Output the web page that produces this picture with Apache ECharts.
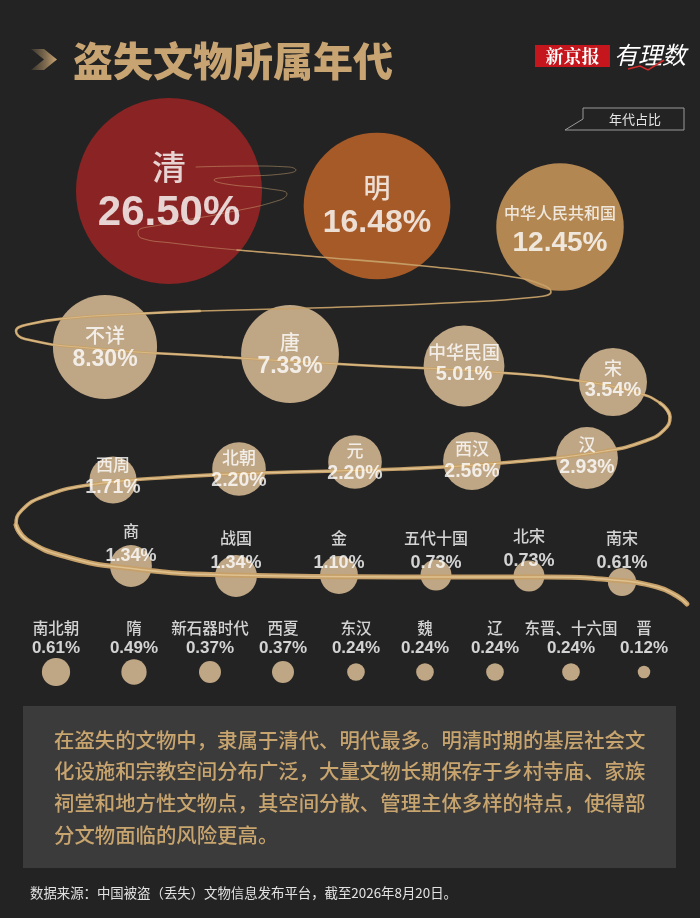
<!DOCTYPE html>
<html><head><meta charset="utf-8">
<script src="https://cdn.jsdelivr.net/npm/echarts@6/dist/echarts.min.js"></script>
<style>html,body{margin:0;padding:0;background:#232323;} #c{width:700px;height:918px;}</style>
</head><body><div id="c"></div>
<script>
// ---- data ----
const eras = ['清','明','中华人民共和国','不详','唐','中华民国','宋','西周','北朝','元','西汉','汉','商','战国','金','五代十国','北宋','南宋','南北朝','隋','新石器时代','西夏','东汉','魏','辽','东晋、十六国','晋'];
const shares = [26.50,16.48,12.45,8.30,7.33,5.01,3.54,1.71,2.20,2.20,2.56,2.93,1.34,1.34,1.10,0.73,0.73,0.61,0.61,0.49,0.37,0.37,0.24,0.24,0.24,0.24,0.12];

// ---- layout (axis units) ----
const bubbleX = [169,377,560,105,290,464,613,113,239,355,472,587,131,236,339,436,529,622,56,134,210,283,356,425,495,571,644];
const bubbleY = [191,206,227,347,354,366,382,480,469,462,461,458,566,576,575,575,576,582,672,672,672,672,672,672,672,672,672];
const labelY  = [190.5,205.5,228,347.5,354.5,363.5,379,476.5,469.5,462.5,460.5,456.5,543.5,550.5,550.5,550.5,548.5,550.5,638,638,638,638,638,638,638,638,638];
const tier    = [0,1,2,3,3,4,4,5,5,5,5,5,6,6,6,6,6,6,7,7,7,7,7,7,7,7,7];
const tierStyle = [
  {ns:34, vs:42, gap:46},
  {ns:27, vs:32, gap:35},
  {ns:16, vs:28, gap:30},
  {ns:20, vs:23, gap:25},
  {ns:18, vs:20, gap:22.5},
  {ns:17, vs:19.5, gap:23},
  {ns:16, vs:18, gap:24.5},
  {ns:15.5, vs:17, gap:20}
];
const topColors = ['#8a2424','#a65a28','#b38752'];
const baseColor = '#bfa685';

// decorative ribbon path (axis units), split into segments of growing width
const ribbon1 = [[196,167],[250,166],[289,167],[296,170],[282,174],[232,177],[214,180],[226,184],[270,189],[287,194],[280,200],[230,212],[160,225],[138,232],[141,238],[172,243],[237,250],[320,257]];
const ribbon2 = [[237,250],[320,257],[424,266],[513,277],[543,285],[551,292],[537,297],[446,303],[312,308],[200,311],[134,314]];
const ribbon3 = [[200,311],[134,314],[70,318],[30,324],[16,331],[25,339],[89,348],[223,357],[357,365],[491,372],[580,381],[634,392],[660,403],[670,417]];
const ribbon4 = [[660,403],[670,417],[664,430],[645,441],[605,451],[513,462],[400,469],[260,473],[160,478],[89,485],[45,496],[22,510],[16,525],[27,540]];
const ribbon5 = [[16,525],[27,540],[67,557],[127,568],[227,575],[400,577],[547,577],[613,580],[657,587],[677,596],[687,604]];

const chart = echarts.init(document.getElementById('c'), null, {renderer:'canvas'});

const rich = {};
tierStyle.forEach((s,t)=>{
  rich['n'+t] = {fontSize:s.ns, lineHeight:s.gap, color:'#ffffff', fontFamily:'Noto Sans CJK SC', fontWeight:500};
  rich['v'+t] = {fontSize:s.vs, lineHeight:s.gap, color:'#ffffff', fontFamily:'Liberation Sans', fontWeight:'bold'};
});

function ribbonSeries(pts, width, color, opacity, z){
  return {type:'line', data:pts, smooth:0.5, symbol:'none', silent:true, z:z,
    lineStyle:{width:width, color:color, opacity:opacity, cap:'round'}};
}

const ribbonColor = '#c6a068';
const hiColor = '#ead0a0';

const option = {
  backgroundColor:'#232323',
  animation:false,
  grid:{left:0,right:0,top:0,bottom:0},
  xAxis:{type:'value', min:0, max:700, show:false},
  yAxis:{type:'value', min:0, max:918, inverse:true, show:false},
  series:[
    {type:'scatter', silent:true, z:2,
     data: eras.map((n,i)=>({name:n, value:[bubbleX[i], bubbleY[i], shares[i]],
        itemStyle:{color: i<3 ? topColors[i] : baseColor, opacity:1}})),
     symbolSize: v => 186*Math.sqrt(v[2]/26.5)
    },
    ribbonSeries(ribbon1, 1, '#d8b27c', 0.45, 3),
    ribbonSeries(ribbon2, 1.6, ribbonColor, 0.95, 3),
    ribbonSeries(ribbon3, 2.6, ribbonColor, 1, 3),
    ribbonSeries(ribbon4, 3.6, ribbonColor, 1, 3),
    ribbonSeries(ribbon5, 5, ribbonColor, 1, 3),
    ribbonSeries(ribbon3, 0.8, hiColor, 0.7, 4),
    ribbonSeries(ribbon4, 1.2, hiColor, 0.7, 4),
    ribbonSeries(ribbon5, 1.6, hiColor, 0.7, 4),
    {type:'scatter', silent:true, z:5, symbol:'circle', symbolSize:1, itemStyle:{color:'rgba(0,0,0,0)'},
     data: eras.map((n,i)=>({name:n, value:[bubbleX[i], labelY[i], shares[i]]})),
     label:{show:true, position:'inside', align:'center', verticalAlign:'middle',
       formatter: p => { const i=p.dataIndex, t=tier[i]; return '{n'+t+'|'+eras[i]+'}\n{v'+t+'|'+shares[i].toFixed(2)+'%}'; },
       rich: rich}
    }
  ],
  graphic:[
    {type:'polygon', shape:{points:[[31,49],[44,49],[57,59.5],[44,70],[31,70],[44,59.5]]},
     style:{fill:new echarts.graphic.LinearGradient(0,0,1,0,[{offset:0,color:'rgba(200,164,115,0.15)'},{offset:0.55,color:'rgba(200,164,115,0.55)'},{offset:1,color:'#c8a473'}])}},
    {type:'text', x:73, y:61, style:{text:'盗失文物所属年代', fill:'#c8a473', font:'900 40px "Noto Sans CJK SC"', textVerticalAlign:'middle'}},
    {type:'rect', shape:{x:535,y:45,width:75,height:22}, style:{fill:'#c4161c'}},
    {type:'text', x:572.5, y:56.5, style:{text:'新京报', fill:'#ffffff', font:'bold 18px "Noto Serif CJK SC","Noto Sans CJK SC"', textAlign:'center', textVerticalAlign:'middle'}},
    {type:'text', x:614, y:55, style:{text:'有理数', fill:'#ffffff', font:'italic 24px "Noto Sans CJK SC"', textVerticalAlign:'middle'}},
    {type:'polyline', shape:{points:[[628,69],[640,66],[648,70],[664,60]]}, style:{stroke:'#d42a2a', lineWidth:1.5, fill:null}},
    {type:'polygon', shape:{points:[[583,108],[684,108],[684,130],[565,130],[583,119]]}, style:{fill:'#232323', stroke:'#9a9a9a', lineWidth:1}},
    {type:'text', x:635, y:119.5, style:{text:'年代占比', fill:'#e6e6e6', font:'13px "Noto Sans CJK SC"', textAlign:'center', textVerticalAlign:'middle'}},
    {type:'rect', shape:{x:23,y:706,width:653,height:162}, style:{fill:'#3b3b3b'}},
    {type:'text', x:54, y:724, style:{text:'在盗失的文物中，隶属于清代、明代最多。明清时期的基层社会文\n化设施和宗教空间分布广泛，大量文物长期保存于乡村寺庙、家族\n祠堂和地方性文物点，其空间分散、管理主体多样的特点，使得部\n分文物面临的风险更高。',
      fill:'#c8a46e', font:'500 20.4px "Noto Sans CJK SC"', lineHeight:31.7, textVerticalAlign:'top'}},
    {type:'text', x:30, y:893, style:{text:'数据来源：中国被盗（丢失）文物信息发布平台，截至2026年8月20日。', fill:'#e2e2e2', font:'13.4px "Noto Sans CJK SC"', textVerticalAlign:'middle'}}
  ]
};
chart.setOption(option);
</script></body></html>
